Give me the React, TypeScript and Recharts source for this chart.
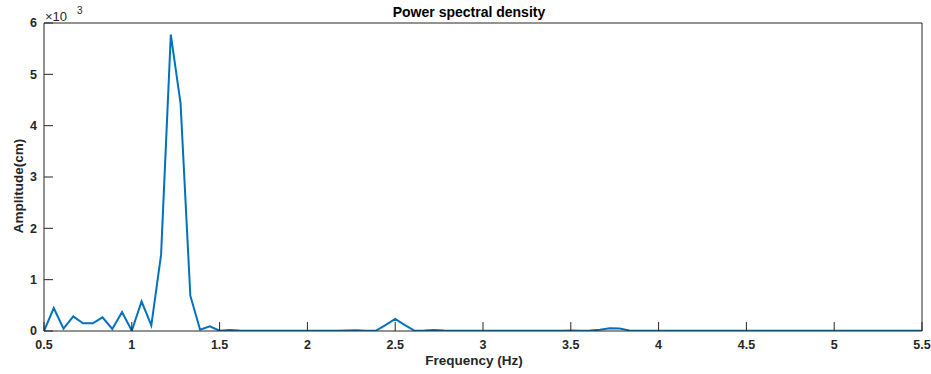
import { Line, LineChart, XAxis, YAxis } from "recharts";

const freqs = [
  0.5, 0.5556, 0.6111, 0.6667, 0.7222, 0.7778, 0.8333, 0.8889, 0.9444, 1.0,
  1.0556, 1.1111, 1.1667, 1.2222, 1.2778, 1.3333, 1.3889, 1.4444, 1.5, 1.5556,
  1.6111, 1.6667, 1.7222, 1.7778, 1.8333, 1.8889, 1.9444, 2.0, 2.0556, 2.1111,
  2.1667, 2.2222, 2.2778, 2.3333, 2.3889, 2.4444, 2.5, 2.5556, 2.6111, 2.6667,
  2.7222, 2.7778, 2.8333, 2.8889, 2.9444, 3.0, 3.0556, 3.1111, 3.1667, 3.2222,
  3.2778, 3.3333, 3.3889, 3.4444, 3.5, 3.5556, 3.6111, 3.6667, 3.7222, 3.7778,
  3.8333, 3.8889, 3.9444, 4.0, 4.0556, 4.1111, 4.1667, 4.2222, 4.2778, 4.3333,
  4.3889, 4.4444, 4.5, 4.5556, 4.6111, 4.6667, 4.7222, 4.7778, 4.8333, 4.8889,
  4.9444, 5.0, 5.0556, 5.1111, 5.1667, 5.2222, 5.2778, 5.3333, 5.3889, 5.4444,
  5.5,
];

const amplitude = [
  0, 448, 45, 286, 149, 149, 266, 39, 370, 5,
  578, 110, 1487, 5773, 4429, 688, 26, 90, 5, 20,
  8, 4, 6, 5, 3, 4, 5, 3, 4, 6,
  5, 8, 15, 6, 5, 115, 235, 115, 5, 8,
  20, 10, 6, 4, 5, 4, 6, 5, 4, 5,
  4, 6, 5, 4, 8, 5, 10, 25, 55, 50,
  12, 5, 4, 3, 4, 5, 4, 3, 4, 5,
  4, 3, 4, 5, 4, 3, 4, 5, 4, 3,
  4, 6, 4, 3, 4, 5, 4, 3, 4, 5,
  4,
];

const xTicks = [0.5, 1, 1.5, 2, 2.5, 3, 3.5, 4, 4.5, 5, 5.5];
const yTicks = [0, 1000, 2000, 3000, 4000, 5000, 6000];

const data = freqs.map((f, i) => ({ f, a: amplitude[i] }));

const font = "'Liberation Sans', Arial, Helvetica, sans-serif";
const axisColor = "#262626";
const tickStyle = { fontFamily: font, fontSize: 12.5, fontWeight: "bold", fill: axisColor };

const App = () => {
  return (
    <div style={{ position: "fixed", left: 0, top: 0, width: 931, height: 374, background: "#fff" }}>
      <div
        style={{
          position: "absolute",
          left: 0,
          width: 938,
          top: 4,
          textAlign: "center",
          fontFamily: font,
          fontWeight: "bold",
          fontSize: 14,
          lineHeight: "16px",
          color: "#000",
        }}
      >
        Power spectral density
      </div>
      <div style={{ position: "absolute", left: 45, top: 9, fontFamily: font, fontSize: 13, lineHeight: "15px", color: axisColor }}>
        ×10
      </div>
      <div style={{ position: "absolute", left: 77, top: 5, fontFamily: font, fontSize: 10, lineHeight: "12px", color: axisColor }}>
        3
      </div>
      <LineChart width={931} height={374} data={data} margin={{ top: 22, right: 0, bottom: 0, left: 0 }}>
        <XAxis
          xAxisId="bottom"
          dataKey="f"
          type="number"
          domain={[0.5, 5.5]}
          ticks={xTicks}
          allowDataOverflow
          height={43}
          tickSize={-9}
          tickMargin={18}
          stroke={axisColor}
          tick={tickStyle}
          label={{
            content: () => (
              <text x={474} y={365} textAnchor="middle" fontFamily={font} fontSize={13.5} fontWeight="bold" fill={axisColor}>
                Frequency (Hz)
              </text>
            ),
          }}
        />
        <XAxis
          xAxisId="top"
          orientation="top"
          dataKey="f"
          type="number"
          domain={[0.5, 5.5]}
          ticks={xTicks}
          allowDataOverflow
          height={1}
          tickSize={-9}
          stroke={axisColor}
          tick={false}
        />
        <YAxis
          yAxisId="left"
          type="number"
          domain={[0, 6000]}
          ticks={yTicks}
          allowDataOverflow
          width={44}
          tickSize={-9}
          tickMargin={16}
          stroke={axisColor}
          tick={tickStyle}
          tickFormatter={(v: number) => String(v / 1000)}
          label={{
            content: () => (
              <text
                x={23}
                y={186}
                transform="rotate(-90 23 186)"
                textAnchor="middle"
                fontFamily={font}
                fontSize={13.5}
                fontWeight="bold"
                fill={axisColor}
              >
                Amplitude(cm)
              </text>
            ),
          }}
        />
        <YAxis
          yAxisId="right"
          orientation="right"
          type="number"
          domain={[0, 6000]}
          ticks={yTicks}
          allowDataOverflow
          width={9}
          tickSize={-9}
          stroke={axisColor}
          tick={false}
        />
        <Line
          xAxisId="bottom"
          yAxisId="left"
          dataKey="a"
          type="linear"
          stroke="#0072BD"
          strokeWidth={2}
          dot={false}
          isAnimationActive={false}
        />
      </LineChart>
    </div>
  );
};

export default App;
